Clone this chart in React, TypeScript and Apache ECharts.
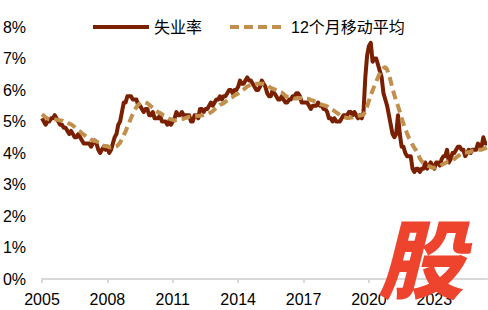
import React, { useEffect, useRef } from "react";
import * as echarts from "echarts";

// Monthly data, Jun 2005 – Nov 2025
const START_YEAR = 2005;
const START_MONTH = 6;

const seriesNames = ["失业率", "12个月移动平均"];

// 失业率 (%)
const rate: number[] = [
  // 2005 Jun-Dec
  5.1, 5.0, 4.9, 5.0, 5.0, 5.1, 5.1,
  // 2006
  5.2, 5.1, 5.0, 4.9, 4.9, 4.8, 4.8, 4.7, 4.6, 4.7, 4.6, 4.5,
  // 2007
  4.5, 4.6, 4.5, 4.4, 4.3, 4.3, 4.3, 4.3, 4.2, 4.3, 4.4, 4.3,
  // 2008
  4.1, 4.0, 4.1, 4.2, 4.1, 4.2, 4.0, 4.1, 4.3, 4.5, 4.6, 4.9,
  // 2009
  5.0, 5.3, 5.6, 5.6, 5.8, 5.8, 5.8, 5.7, 5.7, 5.7, 5.5, 5.5,
  // 2010
  5.4, 5.3, 5.4, 5.4, 5.2, 5.2, 5.3, 5.1, 5.1, 5.1, 5.2, 5.0,
  // 2011
  5.0, 5.0, 4.9, 5.0, 4.9, 5.0, 5.1, 5.3, 5.2, 5.2, 5.3, 5.2,
  // 2012
  5.2, 5.2, 5.2, 5.0, 5.0, 5.2, 5.2, 5.1, 5.4, 5.4, 5.3, 5.4,
  // 2013
  5.4, 5.5, 5.6, 5.5, 5.6, 5.7, 5.7, 5.8, 5.7, 5.8, 5.8, 5.9,
  // 2014
  6.0, 6.0, 5.9, 6.0, 6.0, 6.1, 6.3, 6.2, 6.2, 6.3, 6.4, 6.3,
  // 2015
  6.3, 6.2, 6.1, 6.0, 6.0, 6.1, 6.3, 6.2, 6.1, 5.9, 5.8, 5.8,
  // 2016
  6.0, 5.9, 5.8, 5.7, 5.7, 5.8, 5.7, 5.6, 5.6, 5.7, 5.7, 5.8,
  // 2017
  5.8, 5.9, 5.9, 5.8, 5.6, 5.6, 5.6, 5.6, 5.5, 5.4, 5.5, 5.5,
  // 2018
  5.5, 5.6, 5.5, 5.5, 5.4, 5.4, 5.3, 5.1, 5.1, 5.0, 5.1, 5.0,
  // 2019
  5.0, 5.0, 5.1, 5.2, 5.2, 5.2, 5.3, 5.3, 5.2, 5.3, 5.2, 5.1,
  // 2020
  5.2, 5.1, 5.3, 6.4, 7.1, 7.4, 7.5, 6.9, 7.0, 7.0, 6.8, 6.6,
  // 2021
  6.4, 5.9, 5.7, 5.5, 5.2, 4.9, 4.6, 4.5, 4.6, 5.2, 4.6, 4.2,
  // 2022
  4.2, 4.0, 3.9, 3.9, 3.9, 3.5, 3.4, 3.5, 3.5, 3.4, 3.5, 3.5,
  // 2023
  3.7, 3.5, 3.6, 3.7, 3.6, 3.5, 3.7, 3.7, 3.6, 3.8, 3.9, 3.9,
  // 2024
  4.1, 3.7, 3.8, 4.0, 4.0, 4.1, 4.2, 4.2, 4.1, 4.1, 3.9, 4.0,
  // 2025 Jan-Nov
  4.1, 4.0, 4.1, 4.1, 4.1, 4.3, 4.2, 4.2, 4.5, 4.3, 4.3,
];

// 12个月移动平均 (%)
const ma12: number[] = [
  // 2005 Jun-Dec
  5.23, 5.18, 5.13, 5.09, 5.07, 5.06, 5.06,
  // 2006
  5.06, 5.06, 5.05, 5.03, 5.03, 5.0, 4.98, 4.97, 4.93, 4.91, 4.87, 4.82,
  // 2007
  4.76, 4.72, 4.68, 4.63, 4.58, 4.54, 4.5, 4.47, 4.43, 4.4, 4.38, 4.37,
  // 2008
  4.33, 4.28, 4.25, 4.23, 4.22, 4.21, 4.18, 4.17, 4.18, 4.19, 4.21, 4.26,
  // 2009
  4.33, 4.44, 4.57, 4.68, 4.83, 4.96, 5.11, 5.24, 5.36, 5.46, 5.53, 5.58,
  // 2010
  5.62, 5.62, 5.6, 5.58, 5.53, 5.48, 5.44, 5.39, 5.34, 5.29, 5.27, 5.23,
  // 2011
  5.19, 5.17, 5.13, 5.09, 5.07, 5.05, 5.03, 5.05, 5.06, 5.07, 5.08, 5.09,
  // 2012
  5.11, 5.13, 5.15, 5.15, 5.16, 5.18, 5.18, 5.17, 5.18, 5.2, 5.2, 5.22,
  // 2013
  5.23, 5.26, 5.29, 5.33, 5.38, 5.43, 5.47, 5.53, 5.55, 5.58, 5.63, 5.67,
  // 2014
  5.72, 5.76, 5.78, 5.83, 5.86, 5.89, 5.94, 5.98, 6.02, 6.06, 6.11, 6.14,
  // 2015
  6.17, 6.18, 6.2, 6.2, 6.2, 6.2, 6.2, 6.2, 6.19, 6.16, 6.11, 6.07,
  // 2016
  6.04, 6.02, 5.99, 5.97, 5.94, 5.92, 5.87, 5.82, 5.78, 5.76, 5.75, 5.75,
  // 2017
  5.73, 5.73, 5.74, 5.75, 5.74, 5.73, 5.72, 5.72, 5.71, 5.68, 5.67, 5.64,
  // 2018
  5.62, 5.59, 5.56, 5.53, 5.52, 5.5, 5.48, 5.43, 5.4, 5.37, 5.33, 5.29,
  // 2019
  5.25, 5.2, 5.17, 5.14, 5.13, 5.11, 5.11, 5.13, 5.13, 5.16, 5.17, 5.18,
  // 2020
  5.19, 5.2, 5.22, 5.32, 5.48, 5.66, 5.84, 5.98, 6.13, 6.27, 6.4, 6.53,
  // 2021
  6.63, 6.69, 6.73, 6.65, 6.49, 6.28, 6.04, 5.84, 5.64, 5.49, 5.31, 5.11,
  // 2022
  4.93, 4.77, 4.62, 4.48, 4.38, 4.26, 4.16, 4.08, 3.98, 3.83, 3.74, 3.68,
  // 2023
  3.64, 3.6, 3.58, 3.56, 3.53, 3.53, 3.56, 3.58, 3.58, 3.62, 3.65, 3.68,
  // 2024
  3.72, 3.73, 3.75, 3.78, 3.81, 3.86, 3.9, 3.94, 3.98, 4.01, 4.01, 4.02,
  // 2025 Jan-Nov
  4.02, 4.04, 4.07, 4.08, 4.08, 4.1, 4.1, 4.1, 4.13, 4.15, 4.18,
];

const months: string[] = rate.map((_, i) => {
  const m = START_MONTH - 1 + i;
  const y = START_YEAR + Math.floor(m / 12);
  return `${y}-${String((m % 12) + 1).padStart(2, "0")}`;
});

const Y_MIN = 0;
const Y_MAX = 8;
const Y_STEP = 1;
const LABEL_EVERY = 36;

const FONT = '"Liberation Sans", Arial, "Noto Sans CJK SC", sans-serif';
const SOLID = "#7a2000";
const DASH = "#c28f4c";

export default function App() {
  const ref = useRef<HTMLDivElement>(null);

  useEffect(() => {
    if (!ref.current) return;
    const chart = echarts.init(ref.current, undefined, { renderer: "svg" });
    chart.setOption({
      animation: false,
      backgroundColor: "#ffffff",
      textStyle: { fontFamily: FONT },
      legend: {
        data: seriesNames,
        left: 86,
        top: 14,
        itemWidth: 56,
        itemHeight: 14,
        itemGap: 26,
        itemStyle: { opacity: 0 },
        lineStyle: { width: 4 },
        textStyle: { fontSize: 16, color: "#000", fontFamily: FONT },
      },
      grid: {
        left: 42,
        right: 1,
        top: 27,
        bottom: 31,
        containLabel: false,
        outerBoundsMode: "none",
      },
      xAxis: {
        type: "category",
        data: months,
        boundaryGap: false,
        axisLine: { show: true, lineStyle: { color: "#d9d9d9", width: 2 } },
        axisTick: {
          show: true,
          inside: false,
          length: 4,
          interval: LABEL_EVERY - 1,
          lineStyle: { color: "#d9d9d9", width: 2 },
        },
        axisLabel: {
          interval: LABEL_EVERY - 1,
          margin: 12,
          fontSize: 16,
          color: "#000",
          fontFamily: FONT,
          formatter: (v: string) => v.slice(0, 4),
        },
        splitLine: { show: false },
      },
      yAxis: {
        type: "value",
        min: Y_MIN,
        max: Y_MAX,
        interval: Y_STEP,
        axisLine: { show: false },
        axisTick: { show: false },
        splitLine: { show: false },
        axisLabel: {
          margin: 16,
          fontSize: 16,
          color: "#000",
          fontFamily: FONT,
          formatter: "{value}%",
        },
      },
      series: [
        {
          name: seriesNames[0],
          type: "line",
          data: rate,
          symbol: "none",
          smooth: false,
          lineStyle: { color: SOLID, width: 4, join: "round" },
          itemStyle: { color: SOLID },
          z: 2,
        },
        {
          name: seriesNames[1],
          type: "line",
          data: ma12,
          symbol: "none",
          smooth: false,
          lineStyle: { color: DASH, width: 4, type: [9, 5] },
          itemStyle: { color: DASH },
          z: 3,
        },
      ],
      graphic: [
        {
          type: "text",
          x: 421,
          y: 254,
          z: 100,
          style: {
            text: "股",
            fill: "#ee432d",
            font: 'italic 900 86px "Noto Sans CJK SC", sans-serif',
            align: "center",
            verticalAlign: "middle",
            textAlign: "center",
            textVerticalAlign: "middle",
          },
        },
      ],
    });
    return () => chart.dispose();
  }, []);

  return (
    <div
      ref={ref}
      style={{
        position: "fixed",
        left: 0,
        top: 0,
        width: 488,
        height: 310,
        background: "#fff",
      }}
    />
  );
}
